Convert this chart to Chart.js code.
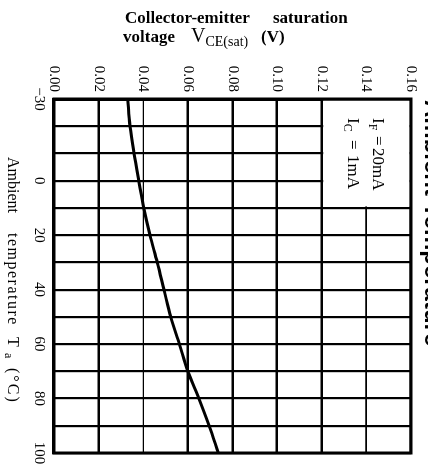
<!DOCTYPE html>
<html lang="en">
<head>
<meta charset="UTF-8" />
<title>VCE(sat) vs Ambient Temperature</title>
<script src="https://cdn.jsdelivr.net/npm/chart.js"></script>
<style>
    body {
        margin: 0;
        background: #fff;
        overflow: hidden;
    }

    /* the chart is laid out landscape and turned a quarter turn clockwise,
       like the datasheet page it comes from */
    #wrap {
        position: absolute;
        left: 0;
        top: 0;
        width: 476px;
        height: 428px;
        transform-origin: 0 0;
        transform: translate(428px, 0) rotate(90deg);
    }
</style>
</head>
<body>
<div id="wrap"><canvas id="satChart" width="476" height="428"></canvas></div>

<script>
    // Ambient temperature (°C) and collector-emitter saturation voltage (V)
    const temps  = [-30, -20, -10, 0, 10, 20, 30, 40, 50, 60, 70, 80, 90, 100];
    const vceSat = [0.033, 0.0341, 0.0359, 0.038, 0.0402, 0.043, 0.0463, 0.0493,
                    0.0523, 0.0562, 0.060, 0.0649, 0.0695, 0.0737];

    // only some temperature gridlines carry a number
    const tempLabels = [-30, 0, 20, 40, 60, 80, 100];

    const serif = "'Liberation Serif', 'DejaVu Serif', serif";
    const PAGE_W = 428;

    // draws a row of text pieces; a piece may set its own x, font and baseline shift
    function drawRun(ctx, x, y, parts) {
        parts.forEach(p => {
            ctx.font = p.font;
            ctx.letterSpacing = p.spacing || '0px';
            if (p.x !== undefined) x = p.x;
            ctx.fillText(p.t, x, y + (p.dy || 0));
            x += ctx.measureText(p.t).width;
        });
        ctx.letterSpacing = '0px';
    }

    // same, but x/y are given on the turned page (text runs left to right there)
    function drawPageRun(ctx, x, y, parts) {
        ctx.save();
        ctx.transform(0, -1, 1, 0, 0, PAGE_W);
        drawRun(ctx, x, y, parts);
        ctx.restore();
    }

    const frame = {
        id: 'frame',
        beforeDatasetsDraw(chart) {
            const { ctx, scales: { x, y } } = chart;
            // condition box in the -30..10 °C / 0.12..0.16 V corner
            const l = x.getPixelForValue(-30), r = x.getPixelForValue(10);
            const t = y.getPixelForValue(0.16), b = y.getPixelForValue(0.12);
            ctx.save();
            ctx.fillStyle = '#fff';
            ctx.fillRect(l + 1.5, t + 1.5, r - l - 3, b - t - 3);
            ctx.fillStyle = '#000';
            ctx.textBaseline = 'alphabetic';
            drawRun(ctx, 118, 55, [
                { t: 'I', font: `17px ${serif}` },
                { t: 'F', font: `12px ${serif}`, dy: 4 },
                { t: '=', font: `17px ${serif}`, x: 136 },
                { t: '20mA', font: `17px ${serif}`, x: 148 }
            ]);
            drawRun(ctx, 118, 80, [
                { t: 'I', font: `17px ${serif}` },
                { t: 'C', font: `12px ${serif}`, dy: 4 },
                { t: '=', font: `17px ${serif}`, x: 140 },
                { t: '1mA', font: `17px ${serif}`, x: 155 }
            ]);
            ctx.restore();
        },
        afterDraw(chart) {
            const { ctx, chartArea: a } = chart;
            ctx.save();
            ctx.strokeStyle = '#000';
            ctx.lineWidth = 3;
            ctx.strokeRect(a.left, a.top, a.right - a.left, a.bottom - a.top);

            ctx.fillStyle = '#000';
            ctx.textBaseline = 'alphabetic';

            // voltage axis title
            drawPageRun(ctx, 125, 23, [
                { t: 'Collector-emitter', font: `bold 17px ${serif}` },
                { t: 'saturation', font: `bold 17px ${serif}`, x: 273 }
            ]);
            drawPageRun(ctx, 123, 42, [
                { t: 'voltage', font: `bold 17px ${serif}` },
                { t: 'V', font: `20px ${serif}`, x: 191 },
                { t: 'CE(sat)', font: `14px ${serif}`, dy: 4 },
                { t: '(V)', font: `bold 17px ${serif}`, x: 261 }
            ]);

            // temperature axis title
            drawRun(ctx, 157, 420, [
                { t: 'Ambient', font: `16px ${serif}` },
                { t: 'temperature', font: `16px ${serif}`, x: 233, spacing: '1.5px' },
                { t: 'T', font: `16px ${serif}`, x: 337 },
                { t: 'a', font: `12px ${serif}`, dy: 3, x: 353 },
                { t: '(°C)', font: `16px ${serif}`, x: 368, spacing: '2px' }
            ]);

            // figure heading, mostly cut off at the page edge
            ctx.font = "bold 24px 'Liberation Sans', Arial, sans-serif";
            ctx.fillText('Ambient Temperature', 100, 3);
            ctx.restore();
        }
    };

    new Chart(document.getElementById('satChart'), {
        type: 'line',
        data: {
            datasets: [{
                data: temps.map((t, i) => ({ x: t, y: vceSat[i] })),
                borderColor: '#000',
                borderWidth: 3,
                pointRadius: 0,
                cubicInterpolationMode: 'monotone',
                fill: false
            }]
        },
        options: {
            responsive: false,
            animation: false,
            layout: { padding: { top: 17, right: 23, left: 0, bottom: 0 } },
            plugins: {
                legend: { display: false },
                tooltip: { enabled: false }
            },
            scales: {
                x: {
                    type: 'linear',
                    min: -30,
                    max: 100,
                    afterFit: s => { s.height = 54; },
                    ticks: {
                        stepSize: 10,
                        autoSkip: false,
                        maxRotation: 0,
                        padding: 6,
                        color: '#000',
                        font: { family: serif, size: 15 },
                        callback: v => tempLabels.includes(v) ? (v < 0 ? '\u2212' + Math.abs(v) : String(v)) : ''
                    },
                    grid: { color: '#000', lineWidth: 2.2, drawTicks: false },
                    border: { color: '#000', width: 3 }
                },
                y: {
                    min: 0,
                    max: 0.16,
                    afterFit: s => { s.width = 99; },
                    ticks: {
                        stepSize: 0.02,
                        padding: 7,
                        color: '#000',
                        font: { family: serif, size: 15 },
                        callback: v => v.toFixed(2)
                    },
                    grid: {
                        color: '#000',
                        drawTicks: false,
                        lineWidth: c => {
                            const v = c.tick ? c.tick.value : 0;
                            if (Math.abs(v - 0.04) < 1e-6) return 1.2;
                            if (Math.abs(v - 0.14) < 1e-6) return 1.8;
                            return 2.5;
                        }
                    },
                    border: { color: '#000', width: 3 }
                }
            }
        },
        plugins: [frame]
    });
</script>
</body>
</html>
